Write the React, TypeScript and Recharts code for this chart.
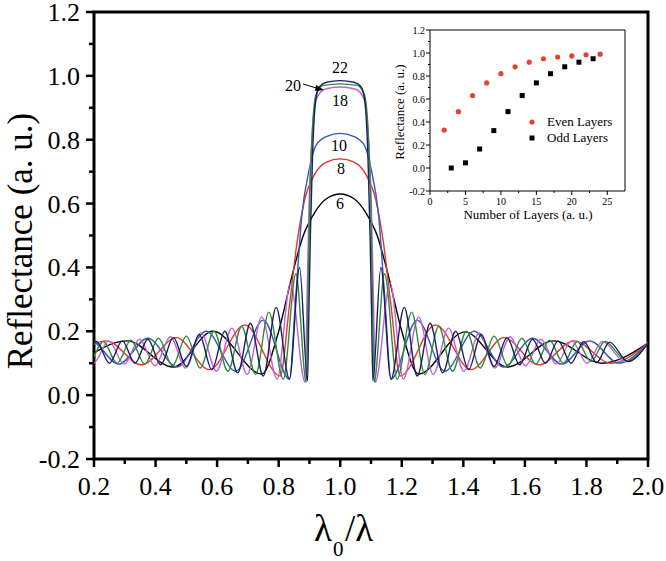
import React from 'react';
import { LineChart, Line, XAxis, YAxis, ReferenceArea, ScatterChart, Scatter } from 'recharts';

const SERIF = '"Liberation Serif", "Times New Roman", Times, "DejaVu Serif", serif';
const serifStyle = { fontFamily: SERIF };

// reflectance spectra, [lambda0/lambda, R] (extrema + band edges)
const layers6: [number, number][] = [
  [0.15, 0.1], [0.307, 0.17], [0.457, 0.088], [0.587, 0.2], [0.745, 0.066], [0.8, 0.2], [0.845, 0.38],
  [0.88, 0.5], [0.916, 0.57], [0.955, 0.615], [1.0, 0.63], [1.045, 0.615], [1.084, 0.57], [1.12, 0.5],
  [1.155, 0.38], [1.2, 0.2], [1.255, 0.066], [1.405, 0.198], [1.543, 0.088], [1.693, 0.17], [1.85, 0.1],
  [2.0, 0.163],
];
const layers8: [number, number][] = [
  [0.12, 0.1], [0.24, 0.17], [0.355, 0.095], [0.468, 0.18], [0.575, 0.08], [0.69, 0.22], [0.805, 0.06],
  [0.835, 0.28], [0.86, 0.48], [0.884, 0.61], [0.916, 0.69], [0.955, 0.73], [1.0, 0.74], [1.045, 0.73],
  [1.084, 0.69], [1.116, 0.61], [1.14, 0.48], [1.165, 0.28], [1.195, 0.06], [1.31, 0.22], [1.425, 0.08],
  [1.532, 0.18], [1.645, 0.095], [1.76, 0.17], [1.88, 0.1], [2.0, 0.163],
];
const layers10: [number, number][] = [
  [0.095, 0.1], [0.19, 0.17], [0.28, 0.097], [0.375, 0.178], [0.47, 0.088], [0.565, 0.2], [0.66, 0.075],
  [0.75, 0.235], [0.835, 0.05], [0.855, 0.3], [0.875, 0.56], [0.9, 0.71], [0.92, 0.78], [0.955, 0.81],
  [1.0, 0.82], [1.045, 0.81], [1.08, 0.78], [1.1, 0.71], [1.125, 0.56], [1.145, 0.3], [1.165, 0.05],
  [1.25, 0.235], [1.34, 0.075], [1.435, 0.2], [1.53, 0.088], [1.625, 0.178], [1.72, 0.097], [1.81, 0.17],
  [1.905, 0.1], [2.0, 0.163],
];
const layers18: [number, number][] = [
  [0.148, 0.168], [0.198, 0.1], [0.248, 0.17], [0.298, 0.097], [0.348, 0.175], [0.398, 0.092], [0.448, 0.183],
  [0.498, 0.085], [0.548, 0.195], [0.598, 0.075], [0.648, 0.21], [0.698, 0.065], [0.745, 0.245], [0.795, 0.05],
  [0.838, 0.35], [0.886, 0.04], [0.892, 0.3], [0.899, 0.6], [0.909, 0.82], [0.924, 0.93], [0.95, 0.958],
  [1.0, 0.965], [1.05, 0.958], [1.076, 0.93], [1.091, 0.82], [1.101, 0.6], [1.108, 0.3], [1.114, 0.04],
  [1.162, 0.35], [1.205, 0.05], [1.255, 0.245], [1.302, 0.065], [1.352, 0.21], [1.402, 0.075], [1.452, 0.195],
  [1.502, 0.085], [1.552, 0.183], [1.602, 0.092], [1.652, 0.175], [1.702, 0.097], [1.752, 0.17], [1.802, 0.1],
  [1.852, 0.168], [1.925, 0.105], [2.0, 0.163],
];
const layers20: [number, number][] = [
  [0.14, 0.168], [0.185, 0.105], [0.23, 0.168], [0.275, 0.1], [0.32, 0.172], [0.365, 0.097], [0.41, 0.178],
  [0.455, 0.092], [0.5, 0.185], [0.545, 0.085], [0.59, 0.2], [0.635, 0.075], [0.68, 0.215], [0.725, 0.065],
  [0.768, 0.26], [0.815, 0.05], [0.856, 0.38], [0.89, 0.04], [0.895, 0.3], [0.901, 0.6], [0.909, 0.82],
  [0.921, 0.94], [0.945, 0.97], [1.0, 0.975], [1.055, 0.97], [1.079, 0.94], [1.091, 0.82], [1.099, 0.6],
  [1.105, 0.3], [1.11, 0.04], [1.144, 0.38], [1.185, 0.05], [1.232, 0.26], [1.275, 0.065], [1.32, 0.215],
  [1.365, 0.075], [1.41, 0.2], [1.455, 0.085], [1.5, 0.185], [1.545, 0.092], [1.59, 0.178], [1.635, 0.097],
  [1.68, 0.172], [1.725, 0.1], [1.77, 0.168], [1.815, 0.105], [1.86, 0.168], [1.93, 0.108], [2.0, 0.163],
];
const layers22: [number, number][] = [
  [0.167, 0.102], [0.208, 0.168], [0.25, 0.1], [0.292, 0.17], [0.333, 0.1], [0.375, 0.175], [0.417, 0.095],
  [0.458, 0.18], [0.5, 0.09], [0.542, 0.19], [0.583, 0.08], [0.625, 0.2], [0.667, 0.07], [0.708, 0.225],
  [0.75, 0.06], [0.792, 0.275], [0.835, 0.05], [0.868, 0.4], [0.894, 0.045], [0.898, 0.25], [0.903, 0.5],
  [0.91, 0.75], [0.92, 0.92], [0.932, 0.965], [0.955, 0.98], [1.0, 0.985], [1.045, 0.98], [1.068, 0.965],
  [1.08, 0.92], [1.09, 0.75], [1.097, 0.5], [1.102, 0.25], [1.106, 0.045], [1.132, 0.4], [1.165, 0.05],
  [1.208, 0.275], [1.25, 0.06], [1.292, 0.225], [1.333, 0.07], [1.375, 0.2], [1.417, 0.08], [1.458, 0.19],
  [1.5, 0.09], [1.542, 0.18], [1.583, 0.095], [1.625, 0.175], [1.667, 0.1], [1.708, 0.17], [1.75, 0.1],
  [1.792, 0.168], [1.833, 0.102], [1.875, 0.166], [1.935, 0.105], [2.0, 0.163],
];

const curves = [
  { name: '6', color: '#000000', pts: layers6 },
  { name: '8', color: '#e5372a', pts: layers8 },
  { name: '10', color: '#3658b8', pts: layers10 },
  { name: '18', color: '#c262d8', pts: layers18 },
  { name: '20', color: '#2f8b3c', pts: layers20 },
  { name: '22', color: '#1c1f5c', pts: layers22 },
];

const xMajor = [0.2, 0.4, 0.6, 0.8, 1.0, 1.2, 1.4, 1.6, 1.8, 2.0];
const xMinor = [0.3, 0.5, 0.7, 0.9, 1.1, 1.3, 1.5, 1.7, 1.9];
const yMajor = [-0.2, 0, 0.2, 0.4, 0.6, 0.8, 1.0, 1.2];
const yMinor = [-0.1, 0.1, 0.3, 0.5, 0.7, 0.9, 1.1];

// inset: peak reflectance vs number of layers
const evenLayers = [2, 4, 6, 8, 10, 12, 14, 16, 18, 20, 22, 24];
const evenR = [0.33, 0.49, 0.63, 0.74, 0.82, 0.88, 0.92, 0.95, 0.965, 0.975, 0.985, 0.99];
const oddLayers = [3, 5, 7, 9, 11, 13, 15, 17, 19, 21, 23];
const oddR = [0.0, 0.045, 0.165, 0.325, 0.49, 0.63, 0.74, 0.82, 0.88, 0.92, 0.95];
const insetXTicks = [0, 2.5, 5, 7.5, 10, 12.5, 15, 17.5, 20, 22.5, 25];

const isIn = (v: number, list: number[]) => list.some((t) => Math.abs(t - v) < 1e-6);
const sortNum = (a: number, b: number) => a - b;

const MainXTick = ({ x, y, payload }: any) => {
  const major = isIn(payload.value, xMajor);
  return (
    <g>
      <line x1={x} x2={x} y1={y} y2={y + (major ? 8 : 5)} stroke="#000" strokeWidth={2.5} />
      {major && (
        <text x={x} y={y + 36} textAnchor="middle" fontSize={26} style={serifStyle} fill="#000">
          {payload.value.toFixed(1)}
        </text>
      )}
    </g>
  );
};

const MainYTick = ({ x, y, payload }: any) => {
  const major = isIn(payload.value, yMajor);
  return (
    <g>
      <line x1={x - (major ? 8 : 5)} x2={x} y1={y} y2={y} stroke="#000" strokeWidth={2.5} />
      {major && (
        <text x={x - 14} y={y + 9} textAnchor="end" fontSize={26} style={serifStyle} fill="#000">
          {payload.value.toFixed(1)}
        </text>
      )}
    </g>
  );
};

const InsetXTick = ({ x, y, payload }: any) => {
  const major = payload.value % 5 === 0;
  return (
    <g>
      <line x1={x} x2={x} y1={y} y2={y + (major ? 4 : 2)} stroke="#000" strokeWidth={1} />
      {major && (
        <text x={x} y={y + 14} textAnchor="middle" fontSize={10} style={serifStyle} fill="#000">
          {payload.value}
        </text>
      )}
    </g>
  );
};

const InsetYTick = ({ x, y, payload }: any) => {
  const major = isIn(payload.value, yMajor);
  return (
    <g>
      <line x1={x - (major ? 4 : 2)} x2={x} y1={y} y2={y} stroke="#000" strokeWidth={1} />
      {major && (
        <text x={x - 5} y={y + 3.5} textAnchor="end" fontSize={10} style={serifStyle} fill="#000">
          {payload.value.toFixed(1)}
        </text>
      )}
    </g>
  );
};

const App = () => {
  const xTicks = [...xMajor, ...xMinor].sort(sortNum);
  const yTicks = [...yMajor, ...yMinor].sort(sortNum);
  const evenData = evenLayers.map((n, i) => ({ x: n, y: evenR[i] }));
  const oddData = oddLayers.map((n, i) => ({ x: n, y: oddR[i] }));

  return (
    <div style={{ position: 'absolute', left: 0, top: 0, width: 666, height: 561, background: '#fff', fontFamily: SERIF }}>
      <LineChart width={666} height={561} margin={{ top: 12, right: 18, bottom: 42, left: 14 }}>
        <XAxis
          type="number"
          dataKey="x"
          domain={[0.2, 2.0]}
          allowDataOverflow
          ticks={xTicks}
          interval={0}
          height={60}
          tickSize={0}
          tickMargin={0}
          axisLine={false}
          tick={<MainXTick />}
        />
        <YAxis
          type="number"
          domain={[-0.2, 1.2]}
          allowDataOverflow
          ticks={yTicks}
          interval={0}
          width={80}
          tickSize={0}
          tickMargin={0}
          axisLine={false}
          tick={<MainYTick />}
        />
        {curves.map((c) => (
          <Line
            key={c.name}
            data={c.pts.map(([x, y]) => ({ x, y }))}
            dataKey="y"
            type="monotone"
            stroke={c.color}
            strokeWidth={1.4}
            dot={false}
            isAnimationActive={false}
          />
        ))}
        <ReferenceArea x1={0.2} x2={2.0} y1={-0.2} y2={1.2} fill="none" fillOpacity={0} stroke="#000" strokeWidth={3} />
      </LineChart>

      <div style={{ position: 'absolute', left: 380, top: 20 }}>
        <ScatterChart width={260} height={210} margin={{ top: 10, right: 15, bottom: 9, left: 10 }}>
          <XAxis
            type="number"
            dataKey="x"
            domain={[0, 27.5]}
            ticks={insetXTicks}
            interval={0}
            height={30}
            tickSize={0}
            tickMargin={0}
            axisLine={false}
            tick={<InsetXTick />}
          />
          <YAxis
            type="number"
            dataKey="y"
            domain={[-0.2, 1.2]}
            ticks={yTicks}
            interval={0}
            width={40}
            tickSize={0}
            tickMargin={0}
            axisLine={false}
            tick={<InsetYTick />}
          />
          <ReferenceArea x1={0} x2={27.5} y1={-0.2} y2={1.2} fill="none" fillOpacity={0} stroke="#000" strokeWidth={1} />
          <Scatter
            data={evenData}
            isAnimationActive={false}
            shape={(p: any) => <circle cx={p.cx} cy={p.cy} r={2.6} fill="#e5432f" />}
          />
          <Scatter
            data={oddData}
            isAnimationActive={false}
            shape={(p: any) => <rect x={p.cx - 2.5} y={p.cy - 2.5} width={5} height={5} fill="#000" />}
          />
        </ScatterChart>
      </div>

      <svg width={666} height={561} style={{ position: 'absolute', left: 0, top: 0, pointerEvents: 'none', fontFamily: SERIF }}>
        <g fill="#000">
          {/* axis titles */}
          <text transform="translate(32,241) rotate(-90)" textAnchor="middle" fontSize={35} style={serifStyle}>
            Reflectance (a. u.)
          </text>
          <text x={314} y={541} fontSize={37} style={serifStyle}>λ</text>
          <text x={333} y={556} fontSize={21} style={serifStyle}>0</text>
          <text x={345} y={541} fontSize={37} style={serifStyle}>/λ</text>

          {/* curve labels */}
          <text x={340} y={73} textAnchor="middle" fontSize={16} style={serifStyle}>22</text>
          <text x={293} y={91} textAnchor="middle" fontSize={16} style={serifStyle}>20</text>
          <text x={340} y={106} textAnchor="middle" fontSize={16} style={serifStyle}>18</text>
          <text x={339} y={151} textAnchor="middle" fontSize={16} style={serifStyle}>10</text>
          <text x={341} y={174} textAnchor="middle" fontSize={16} style={serifStyle}>8</text>
          <text x={340} y={209} textAnchor="middle" fontSize={16} style={serifStyle}>6</text>
          <line x1={303} y1={84} x2={318} y2={88.5} stroke="#000" strokeWidth={1} />
          <polygon points="324,90 316,85 315,91" fill="#000" />

          {/* inset titles and legend */}
          <text transform="translate(404,112) rotate(-90)" textAnchor="middle" fontSize={13} style={serifStyle}>
            Reflectance (a. u.)
          </text>
          <text x={528} y={219} textAnchor="middle" fontSize={13} style={serifStyle}>Number of Layers (a. u.)</text>
          <circle cx={532} cy={122} r={2.6} fill="#e5432f" />
          <text x={547} y={126} fontSize={13} style={serifStyle}>Even Layers</text>
          <rect x={529.5} y={135.5} width={5} height={5} fill="#000" />
          <text x={547} y={142} fontSize={13} style={serifStyle}>Odd Layers</text>
        </g>
      </svg>
    </div>
  );
};

export default App;
